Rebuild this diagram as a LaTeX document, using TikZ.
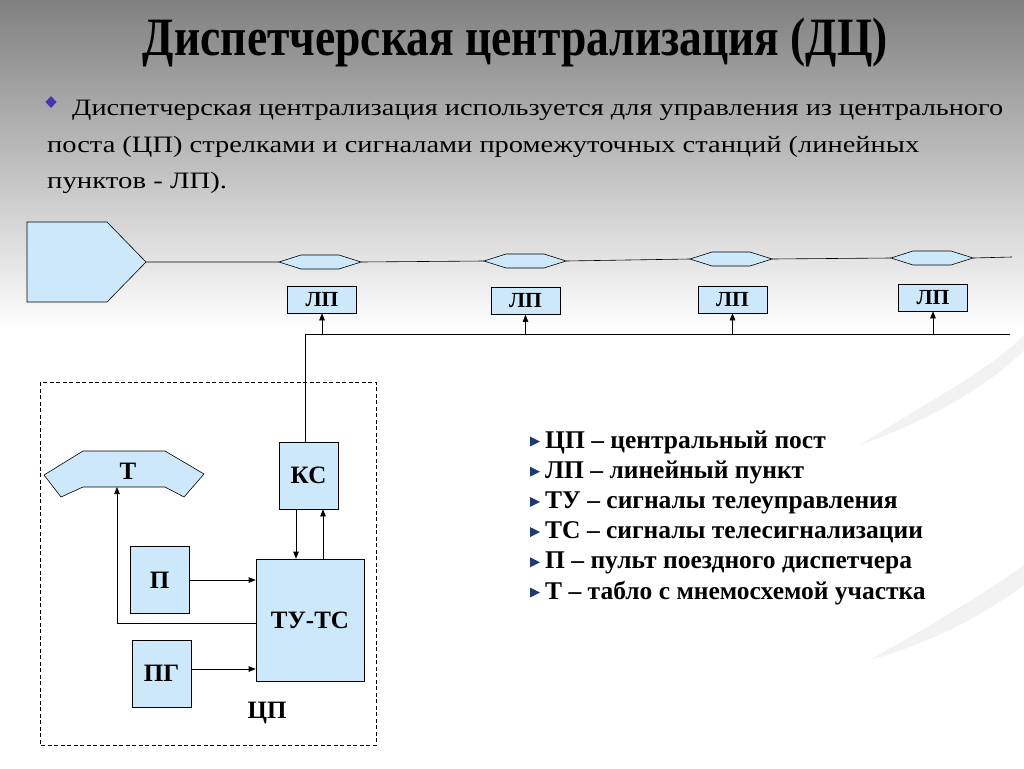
\documentclass[tikz,border=0pt]{standalone}
\usepackage{fontspec}
\setmainfont{Liberation Serif}
\usetikzlibrary{arrows.meta,positioning}
\definecolor{lpblue}{RGB}{204,232,250}
\definecolor{bgtop}{RGB}{128,128,128}
\definecolor{markblue}{RGB}{31,58,112}
\definecolor{diablue}{RGB}{72,52,176}
% stretch a text to a given width, height kept
\newcommand{\fitw}[2]{\resizebox{#1}{\height}{#2}}

\begin{document}
\begin{tikzpicture}[x=1pt,y=-1pt,
  wire/.style={line width=.6pt},
  sig/.style={wire,-{Triangle[length=7pt,width=5.5pt]}},
  box/.style={draw,fill=lpblue,line width=.6pt,inner sep=0pt,
    font=\fontsize{25}{25}\selectfont\bfseries},
  lpbox/.style={box,minimum width=69pt,minimum height=27pt,
    font=\fontsize{21.5}{21.5}\selectfont\bfseries},
  blk/.style={box,minimum width=59pt,minimum height=67pt},
  item/.style={anchor=base west,inner sep=0pt,
    font=\fontsize{25.5}{25.5}\selectfont\bfseries},
  line/.style={anchor=base west,inner sep=0pt,
    font=\fontsize{23.5}{23.5}\selectfont},
  head/.style={anchor=base,inner sep=0pt,
    font=\fontsize{54}{54}\selectfont\bfseries},
]
\useasboundingbox (0,0) rectangle (1024,768);
% background
\fill[white] (0,0) rectangle (1024,768);
\shade[top color=bgtop,bottom color=white] (0,0) rectangle (1024,330);
\fill[black!5] (860,445) .. controls (930,400) and (990,370) .. (1024,335)
  -- (1024,350) .. controls (990,385) and (930,420) .. cycle;
\fill[black!5] (870,660) .. controls (940,620) and (990,590) .. (1024,565)
  -- (1024,585) .. controls (990,610) and (940,640) .. cycle;

% title
\node[head] (title) at (515.5,56)
  {\fitw{745pt}{Диспетчерская централизация (ДЦ)}};

% text
\fill[diablue] (51,96) -- (56.5,102) -- (51,108) -- (45.5,102) -- cycle;
\node[line] (line1) at (72,115) {\fitw{931pt}{Диспетчерская централизация используется для управления из центрального}};
\node[line] (line2) at (47,152) {\fitw{872pt}{поста (ЦП) стрелками и сигналами промежуточных станций (линейных}};
\node[line] (line3) at (47,188) {\fitw{180pt}{пунктов - ЛП).}};

% track with CP and stations
\draw[wire,fill=lpblue] (27,222) -- (107,222) -- (146,262) -- (107,302) -- (27,302) -- cycle;
\coordinate (cptip) at (146,262);
\foreach \i/\xa/\ya in {1/279/262,2/484/261,3/690/259,4/891/258}{
  \draw[wire,fill=lpblue] (\xa,\ya) -- ++(22,-7) -- ++(38,0) -- ++(22,7)
    -- ++(-22,7) -- ++(-38,0) -- cycle;
  \coordinate (h\i w) at (\xa,\ya);
  \coordinate (h\i e) at (\xa+82,\ya);
}
\coordinate (trackend) at (1012,257);
\draw[wire] (cptip) -- (h1w) (h1e) -- (h2w) (h2e) -- (h3w) (h3e) -- (h4w) (h4e) -- (trackend);

\node[lpbox] (lp1) at (322,299.5) {ЛП};
\node[lpbox] (lp2) at (525.5,301) {ЛП};
\node[lpbox] (lp3) at (732.5,299.5) {ЛП};
\node[lpbox] (lp4) at (933,297.5) {ЛП};

% line to the stations
\coordinate (busw) at (305,334);
\coordinate (buse) at (1010,334);
\draw[wire] (busw) -- (buse);
\foreach \i in {1,...,4}
  \draw[sig] (lp\i.south |- busw) -- (lp\i.south);

% central post
\draw[wire,dash pattern=on 4pt off 2.5pt] (40,382) rectangle (376,745);
\node[blk] (ks) at (308.5,475.5) {КС};
\node[box,minimum width=108pt,minimum height=122pt] (tuts) at (310,620) {ТУ-ТС};
\node[blk] (p) at (159.5,580) {П};
\node[blk] (pg) at (161.5,673.5) {ПГ};
\draw[wire,fill=lpblue] (44,475) -- (83,451) -- (165,451) -- (204,474) -- (184,497)
  -- (165,487) -- (83,487) -- (61,497) -- cycle;
\node[font=\fontsize{25}{25}\selectfont\bfseries] (tlabel) at (128,471) {Т};
\coordinate (tbot) at (117,487);
\coordinate (tturn) at (117,623);
\node[font=\fontsize{25}{25}\selectfont\bfseries] (cplabel) at (267,713) {ЦП};

\draw[wire] (busw) -- (busw |- ks.north);
\draw[sig] ([xshift=-12.5pt]ks.south) -- ([xshift=-12.5pt]ks.south |- tuts.north);
\draw[sig] ([xshift=13pt]tuts.north) -- ([xshift=13pt]tuts.north |- ks.south);
\draw[sig] (p.east) -- (p.east -| tuts.west);
\draw[sig] ([yshift=4.5pt]pg.east) -- ([yshift=4.5pt]pg.east -| tuts.west);
\draw[sig] ([yshift=-3pt]tuts.west) -- (tturn) -- (tbot);

% legend
\foreach \i/\txt in {1/ЦП – центральный пост,2/ЛП – линейный пункт,
    3/ТУ – сигналы телеуправления,4/ТС – сигналы телесигнализации,
    5/П – пульт поездного диспетчера,6/Т – табло с мнемосхемой участка}{
  \fill[markblue] (530,448+30.2*\i-30.2-11.5) -- ++(10,5) -- ++(-10,5) -- cycle;
  \node[item] (item\i) at (545,448+30.2*\i-30.2) {\txt};
}
\end{tikzpicture}
\end{document}
